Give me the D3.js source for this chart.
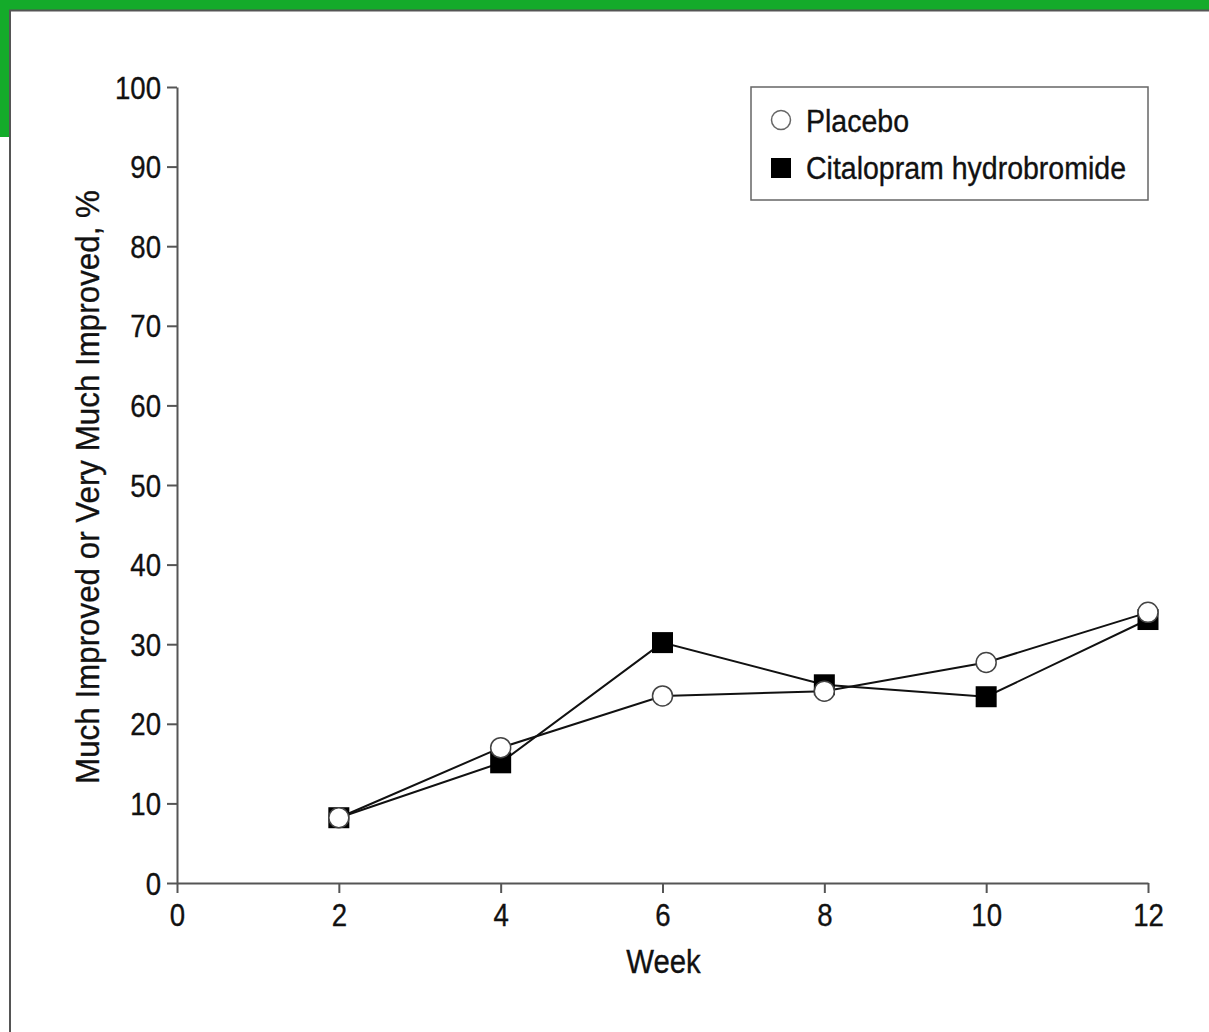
<!DOCTYPE html>
<html>
<head>
<meta charset="utf-8">
<script src="https://cdn.jsdelivr.net/npm/d3@7"></script>
<style>
  html, body { margin: 0; padding: 0; background: #fff; }
  svg { display: block; }
  text { font-family: "Liberation Sans", Arial, sans-serif; fill: #111; stroke: #111; stroke-width: 0.35px; }
  .axis path, .axis line { stroke: #555; stroke-width: 2; }
  .axis text { font-size: 31px; font-family: "Liberation Sans", Arial, sans-serif; fill: #111; stroke: #111; stroke-width: 0.35px; }
</style>
</head>
<body>
<div id="chart"></div>
<script>
// data
const weeks = [2, 4, 6, 8, 10, 12];
const placebo = [8.2, 17.0, 23.5, 24.1, 27.7, 34.0];
const citalopram = [8.2, 15.1, 30.2, 24.9, 23.4, 33.1];
const xTicks = [0, 2, 4, 6, 8, 10, 12];
const yTicks = [0, 10, 20, 30, 40, 50, 60, 70, 80, 90, 100];
const seriesNames = ["Placebo", "Citalopram hydrobromide"];

const W = 1209, H = 1032;
const narrowK = 0.89; // squeeze Liberation Sans toward a condensed face

// move x/y into a transform so the glyphs can be squeezed horizontally
function narrow(sel, k) {
  sel.each(function() {
    const t = d3.select(this);
    const tx = +t.attr("x") || 0, ty = +t.attr("y") || 0;
    const pre = t.attr("transform") || "";
    t.attr("x", 0).attr("y", 0)
     .attr("transform", `${pre} translate(${tx},${ty}) scale(${k},1)`);
  });
}

const svg = d3.select("#chart").append("svg")
  .attr("width", W)
  .attr("height", H);

// page frame: green band + grey rule
svg.append("rect").attr("x", 0).attr("y", 0).attr("width", W).attr("height", 10).attr("fill", "#14ab2a");
svg.append("rect").attr("x", 0).attr("y", 0).attr("width", 9).attr("height", 137).attr("fill", "#14ab2a");
svg.append("path")
  .attr("d", `M10,${H} V10.5 H${W}`)
  .attr("fill", "none")
  .attr("stroke", "#555")
  .attr("stroke-width", 2);

// scales
const x = d3.scaleLinear().domain([0, 12]).range([177, 1148]);
const y = d3.scaleLinear().domain([0, 100]).range([883, 87]);

// axes
const xAxis = d3.axisBottom(x).tickValues(xTicks).tickSize(10).tickSizeOuter(0).tickPadding(10);
const yAxis = d3.axisLeft(y).tickValues(yTicks).tickSize(10).tickSizeOuter(0).tickPadding(6);

const gx = svg.append("g")
  .attr("class", "axis x-axis")
  .attr("transform", `translate(0,${y(0)})`)
  .call(xAxis);

const gy = svg.append("g")
  .attr("class", "axis y-axis")
  .attr("transform", `translate(${x(0)},0)`)
  .call(yAxis);

gx.selectAll(".tick text").attr("dy", "0.75em").call(narrow, narrowK);
gy.selectAll(".tick text").attr("dy", "0.36em").call(narrow, narrowK);

// axis titles
svg.append("text")
  .attr("x", (x(0) + x(12)) / 2 + 1)
  .attr("y", 973)
  .attr("text-anchor", "middle")
  .attr("font-size", 33)
  .text("Week")
  .call(narrow, narrowK);

svg.append("text")
  .attr("transform", `translate(99,${(y(0) + y(100)) / 2 + 2}) rotate(-90) scale(0.95,1)`)
  .attr("text-anchor", "middle")
  .attr("font-size", 33)
  .text("Much Improved or Very Much Improved, %");

// lines
const line = d3.line()
  .x(d => x(d[0]))
  .y(d => y(d[1]));

const placeboData = weeks.map((w, i) => [w, placebo[i]]);
const citaData = weeks.map((w, i) => [w, citalopram[i]]);

svg.append("path").datum(placeboData)
  .attr("d", line).attr("fill", "none").attr("stroke", "#111").attr("stroke-width", 2);
svg.append("path").datum(citaData)
  .attr("d", line).attr("fill", "none").attr("stroke", "#111").attr("stroke-width", 2);

// markers: squares under circles
const sq = 21;
svg.selectAll(".cita").data(citaData).enter().append("rect")
  .attr("class", "cita")
  .attr("x", d => x(d[0]) - sq / 2)
  .attr("y", d => y(d[1]) - sq / 2)
  .attr("width", sq).attr("height", sq)
  .attr("fill", "#000");

svg.selectAll(".plac").data(placeboData).enter().append("circle")
  .attr("class", "plac")
  .attr("cx", d => x(d[0]))
  .attr("cy", d => y(d[1]))
  .attr("r", 10)
  .attr("fill", "#fff")
  .attr("stroke", "#444")
  .attr("stroke-width", 1.5);

// legend
const legend = svg.append("g").attr("class", "legend");
legend.append("rect")
  .attr("x", 751).attr("y", 87)
  .attr("width", 397).attr("height", 113)
  .attr("fill", "#fff")
  .attr("stroke", "#666")
  .attr("stroke-width", 1.5);

legend.append("circle")
  .attr("cx", 781).attr("cy", 120).attr("r", 9.5)
  .attr("fill", "#fff").attr("stroke", "#666").attr("stroke-width", 1.5);
legend.append("rect")
  .attr("x", 771).attr("y", 158).attr("width", 20).attr("height", 20)
  .attr("fill", "#000");

legend.selectAll(".legend-label").data(seriesNames).enter().append("text")
  .attr("class", "legend-label")
  .attr("x", 806)
  .attr("y", (d, i) => 132 + i * 47)
  .attr("font-size", 31)
  .text(d => d)
  .call(narrow, 0.92);
</script>
</body>
</html>
